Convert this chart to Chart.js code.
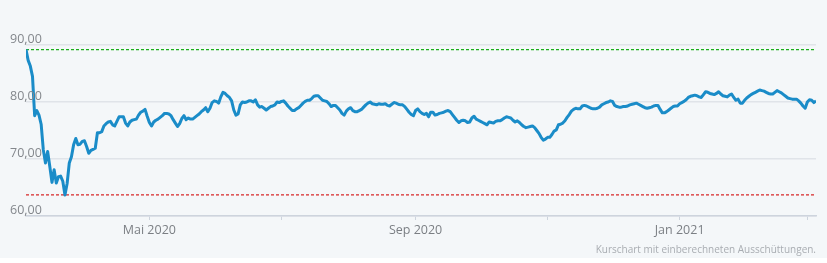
<!DOCTYPE html>
<html>
<head>
<meta charset="utf-8">
<script src="https://cdn.jsdelivr.net/npm/chart.js@4"></script>
<style>
  html, body { margin: 0; padding: 0; background: #fff; }
  #wrap { position: relative; width: 827px; height: 263px; }
  #bg { position: absolute; left: 0; top: 0; width: 827px; height: 258px; background: #f4f7f9; }
  #kursChart { position: absolute; left: 0; top: 0; }
  #note { position: absolute; right: 11px; top: 242px; font: 10px 'Open Sans', sans-serif; color: #a9adb2; }
</style>
</head>
<body>
<div id="wrap">
  <div id="bg"></div>
  <canvas id="kursChart" width="827" height="263"></canvas>
  <div id="note">Kurschart mit einberechneten Ausschüttungen.</div>
</div>
<script>
// ============================================================
// Kurschart - daily prices, 05.03.2020 to 05.03.2021
// ============================================================

const startDate = '2020-03-05';

const prices = [
  89.2, 87.3, 86.3, 84.5, 77.6, 78.5, 77.7, 76.1, 71.6, 69.3,
  71.3, 68.7, 65.9, 68.1, 65.8, 66.9, 67.0, 66.1, 63.7, 65.7,
  69.3, 70.4, 72.5, 73.6, 72.5, 72.6, 73.1, 73.2, 72.2, 71.0,
  71.5, 71.7, 71.9, 74.6, 74.6, 74.8, 75.8, 76.2, 76.5, 76.6,
  76.0, 75.8, 76.6, 77.4, 77.4, 77.4, 76.3, 75.8, 76.5, 76.8,
  76.9, 77.0, 77.7, 78.2, 78.4, 78.7, 77.5, 76.4, 75.8, 76.5,
  76.8, 77.0, 77.3, 77.6, 78.0, 78.0, 77.9, 77.6, 76.9, 76.3,
  75.7, 76.2, 77.1, 77.6, 76.9, 77.2, 77.0, 77.0, 77.3, 77.6,
  77.9, 78.3, 78.6, 79.0, 78.3, 78.9, 79.9, 80.2, 80.1, 79.8,
  80.9, 81.7, 81.5, 81.1, 80.8, 80.2, 78.6, 77.7, 77.9, 79.5,
  80.0, 79.9, 80.0, 80.2, 80.2, 80.0, 80.4, 79.5, 79.1, 79.2,
  78.9, 78.6, 78.9, 79.2, 79.3, 79.5, 80.0, 79.9, 80.1, 80.2,
  79.8, 79.3, 78.9, 78.5, 78.5, 78.8, 79.0, 79.4, 79.8, 80.1,
  80.3, 80.3, 80.6, 81.0, 81.1, 81.1, 80.7, 80.3, 80.2, 80.1,
  79.7, 79.2, 79.4, 79.4, 79.0, 78.6, 78.0, 77.7, 78.4, 78.8,
  79.0, 78.5, 78.3, 78.3, 78.5, 78.7, 79.1, 79.5, 79.8, 80.0,
  79.7, 79.6, 79.5, 79.7, 79.6, 79.6, 79.7, 79.4, 79.3, 79.6,
  79.9, 79.8, 79.6, 79.5, 79.5, 79.2, 78.7, 78.2, 77.8, 77.6,
  78.5, 78.8, 78.3, 78.0, 77.8, 78.0, 77.4, 78.2, 78.2, 77.7,
  77.8, 78.0, 78.1, 78.2, 78.4, 78.5, 78.3, 77.8, 77.3, 76.8,
  76.4, 76.7, 76.8, 76.7, 76.4, 76.5, 77.2, 77.5, 77.0, 76.8,
  76.6, 76.4, 76.2, 76.0, 76.5, 76.4, 76.3, 76.6, 76.7, 76.7,
  76.9, 77.2, 77.4, 77.3, 77.2, 76.8, 76.5, 76.7, 76.4, 76.0,
  75.7, 75.5, 75.6, 75.7, 75.8, 75.5, 75.0, 74.5, 73.8, 73.3,
  73.5, 73.8, 73.8, 74.3, 74.9, 75.1, 76.0, 76.1, 76.3, 76.7,
  77.3, 77.8, 78.4, 78.7, 78.9, 78.8, 78.8, 79.3, 79.4, 79.3,
  79.1, 78.9, 78.8, 78.8, 78.9, 79.1, 79.5, 79.7, 79.9, 80.0,
  80.2, 80.1, 79.4, 79.2, 79.1, 79.1, 79.2, 79.2, 79.3, 79.5,
  79.6, 79.7, 79.8, 79.6, 79.4, 79.2, 79.0, 78.9, 79.0, 79.1,
  79.3, 79.4, 79.4, 78.7, 78.1, 78.1, 78.3, 78.6, 78.9, 79.2,
  79.3, 79.3, 79.7, 79.9, 80.1, 80.4, 80.8, 81.0, 81.1, 81.2,
  81.1, 80.9, 80.8, 81.3, 81.8, 81.7, 81.5, 81.4, 81.3, 81.5,
  81.8, 81.4, 81.1, 81.0, 80.9, 81.2, 81.4, 80.8, 80.3, 80.5,
  79.8, 79.8, 80.3, 80.7, 81.0, 81.3, 81.5, 81.7, 81.9, 82.1,
  82.0, 81.9, 81.7, 81.5, 81.4, 81.4, 81.7, 82.0, 81.8, 81.6,
  81.3, 81.0, 80.7, 80.6, 80.5, 80.5, 80.5, 80.2, 79.8, 79.3,
  78.9, 80.0, 80.4, 80.3, 79.9, 80.2
];

// period high / low markers
const highValue = 89.2;
const lowValue = 63.7;

const tickDates = ['2020-05-01', '2020-07-01', '2020-09-01', '2020-11-01', '2021-01-01', '2021-03-01'];
const tickLabels = ['Mai 2020', '', 'Sep 2020', '', 'Jan 2021', ''];
const yTicks = [60, 70, 80, 90];

const DAY = 86400000;
const t0 = Date.parse(startDate);
const points = prices.map((v, i) => ({ x: t0 + i * DAY, y: v }));
const tFirst = points[0].x;
const tLast = points[points.length - 1].x;

Chart.defaults.font.family = "'Open Sans', sans-serif";

const fmt = v => v.toFixed(2).replace('.', ',');

// y labels sit above their grid line and run into the plot, so draw them here
const yLabelPlugin = {
  id: 'yLabels',
  afterDraw(chart) {
    const { ctx, scales: { y } } = chart;
    ctx.save();
    ctx.font = "12.5px 'Open Sans', sans-serif";
    ctx.fillStyle = '#83878c';
    ctx.textAlign = 'left';
    ctx.textBaseline = 'alphabetic';
    yTicks.forEach(v => ctx.fillText(fmt(v), 10, y.getPixelForValue(v) - 2));
    ctx.restore();
  }
};

new Chart(document.getElementById('kursChart'), {
  type: 'line',
  data: {
    datasets: [
      {
        data: points,
        borderColor: '#1a8cc8',
        borderWidth: 3,
        pointRadius: 0,
        borderJoinStyle: 'round',
        fill: false
      },
      {
        data: [{ x: tFirst, y: highValue }, { x: tLast, y: highValue }],
        borderColor: '#1cae1c',
        borderWidth: 1.2,
        borderDash: [3, 2],
        pointRadius: 0
      },
      {
        data: [{ x: tFirst, y: lowValue }, { x: tLast, y: lowValue }],
        borderColor: '#d62828',
        borderWidth: 1.2,
        borderDash: [3, 2],
        pointRadius: 0
      }
    ]
  },
  plugins: [yLabelPlugin],
  options: {
    responsive: false,
    animation: false,
    layout: { padding: { left: 10, right: 11, top: 45, bottom: 0 } },
    plugins: { legend: { display: false }, tooltip: { enabled: false } },
    scales: {
      x: {
        type: 'linear',
        min: tFirst,
        max: tLast,
        afterBuildTicks: s => { s.ticks = tickDates.map(d => ({ value: Date.parse(d) })); },
        afterFit: s => { s.height = 47; },
        grid: { drawOnChartArea: false, drawTicks: true, tickLength: 4, tickColor: '#cdd4dd' },
        border: { display: true, color: '#cdd4dd', width: 1.5 },
        ticks: {
          autoSkip: false,
          maxRotation: 0,
          padding: 3,
          color: '#7b7f84',
          font: { size: 12.5 },
          callback: (v, i) => tickLabels[i]
        }
      },
      y: {
        min: 60,
        max: 90,
        afterBuildTicks: s => { s.ticks = yTicks.map(v => ({ value: v })); },
        afterFit: s => { s.width = 16; },
        grid: { drawTicks: false, color: '#e0e4e9', lineWidth: 1.5 },
        border: { display: false },
        ticks: { display: false }
      }
    }
  }
});
</script>
</body>
</html>
